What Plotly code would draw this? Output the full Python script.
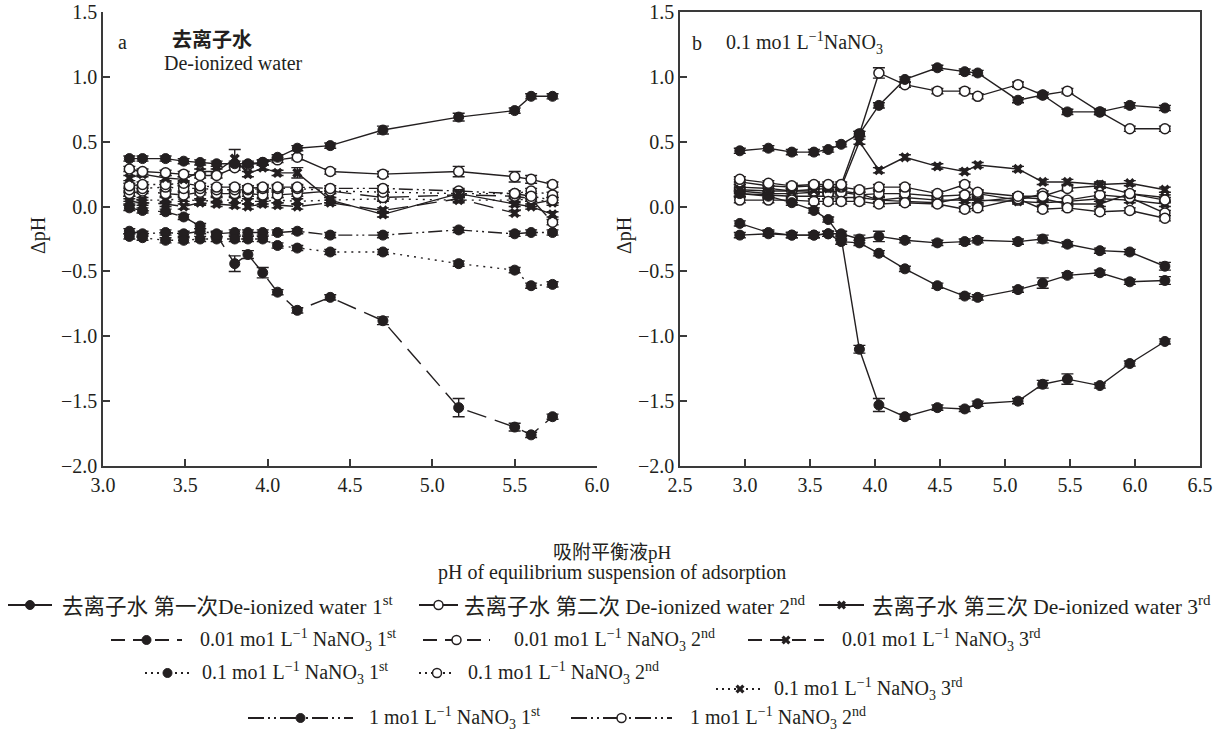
import plotly.graph_objects as go

W, H = 1225, 741
INK = "#231f20"
FONT = "Liberation Serif, Noto Sans CJK SC, serif"

# ---------------- Panel a : de-ionized water background ----------------
xa = [3.16, 3.24, 3.38, 3.49, 3.59, 3.69, 3.80, 3.88, 3.97, 4.06, 4.18, 4.38, 4.70, 5.16, 5.50, 5.60, 5.73]

a_dw1 = [0.37, 0.37, 0.37, 0.35, 0.34, 0.33, 0.33, 0.33, 0.34, 0.38, 0.45, 0.47, 0.59, 0.69, 0.74, 0.85, 0.85]
a_dw2 = [0.29, 0.27, 0.26, 0.25, 0.24, 0.24, 0.30, 0.32, 0.34, 0.36, 0.38, 0.27, 0.25, 0.27, 0.23, 0.21, 0.17]
a_dw3 = [0.22, 0.25, 0.22, 0.21, 0.27, 0.27, 0.37, 0.25, 0.30, 0.26, 0.26, 0.05, -0.06, 0.10, 0.02, 0.00, -0.06]
a_n001_1 = [-0.01, -0.03, -0.04, -0.08, -0.15, -0.22, -0.44, -0.37, -0.51, -0.66, -0.80, -0.70, -0.88, -1.55, -1.70, -1.76, -1.62]
a_n001_2 = [0.10, 0.12, 0.10, 0.09, 0.11, 0.10, 0.10, 0.10, 0.09, 0.09, 0.10, 0.12, 0.07, 0.09, 0.08, 0.06, -0.12]
a_n001_3 = [0.04, 0.03, 0.02, 0.00, 0.03, 0.02, 0.01, 0.00, 0.02, 0.01, 0.00, 0.03, -0.03, 0.06, -0.05, 0.02, 0.05]
a_n01_1 = [-0.23, -0.24, -0.26, -0.26, -0.25, -0.25, -0.25, -0.25, -0.25, -0.30, -0.32, -0.35, -0.35, -0.44, -0.49, -0.61, -0.60]
a_n01_2 = [0.13, 0.14, 0.15, 0.14, 0.14, 0.13, 0.13, 0.13, 0.14, 0.14, 0.14, 0.12, 0.11, 0.10, 0.10, 0.12, 0.09]
a_n01_3 = [0.06, 0.05, 0.05, 0.06, 0.04, 0.05, 0.05, 0.04, 0.04, 0.05, 0.04, 0.05, 0.06, 0.05, 0.05, 0.06, 0.03]
a_n1_1 = [-0.19, -0.21, -0.20, -0.21, -0.19, -0.21, -0.20, -0.20, -0.20, -0.20, -0.19, -0.22, -0.22, -0.18, -0.21, -0.20, -0.20]
a_n1_2 = [0.16, 0.17, 0.17, 0.18, 0.16, 0.15, 0.15, 0.14, 0.15, 0.15, 0.15, 0.14, 0.14, 0.12, 0.10, 0.08, 0.05]

e_a_dw1 = [0.02, 0.02, 0.02, 0.02, 0.02, 0.02, 0.02, 0.02, 0.02, 0.02, 0.02, 0.02, 0.03, 0.03, 0.02, 0.02, 0.02]
e_a_dw2 = [0.02, 0.02, 0.02, 0.02, 0.02, 0.02, 0.02, 0.02, 0.02, 0.02, 0.02, 0.02, 0.02, 0.04, 0.04, 0.03, 0.02]
e_a_dw3 = [0.02, 0.02, 0.02, 0.02, 0.02, 0.02, 0.07, 0.02, 0.02, 0.02, 0.04, 0.02, 0.02, 0.03, 0.02, 0.02, 0.02]
e_a_n001_1 = [0.02, 0.02, 0.02, 0.02, 0.02, 0.02, 0.06, 0.03, 0.04, 0.02, 0.02, 0.02, 0.03, 0.07, 0.03, 0.02, 0.02]
ERR_SMALL = 0.02

# ---------------- Panel b : 0.1 mol/L NaNO3 background ----------------
xb = [2.96, 3.18, 3.36, 3.53, 3.64, 3.74, 3.88, 4.03, 4.23, 4.48, 4.69, 4.79, 5.10, 5.29, 5.48, 5.73, 5.96, 6.23]

b_A = [0.43, 0.45, 0.42, 0.42, 0.44, 0.48, 0.56, 0.78, 0.98, 1.07, 1.04, 1.03, 0.82, 0.86, 0.73, 0.73, 0.78, 0.76]
b_B = [0.21, 0.18, 0.16, 0.17, 0.17, 0.17, 0.56, 1.03, 0.94, 0.89, 0.89, 0.85, 0.94, 0.86, 0.89, 0.73, 0.60, 0.60]
b_C = [0.13, 0.12, 0.12, 0.13, 0.14, 0.15, 0.50, 0.28, 0.38, 0.31, 0.27, 0.32, 0.29, 0.19, 0.19, 0.17, 0.18, 0.13]
b_D = [0.10, 0.08, 0.03, -0.03, -0.10, -0.24, -1.10, -1.53, -1.62, -1.55, -1.56, -1.52, -1.50, -1.37, -1.33, -1.38, -1.21, -1.04]
b_E = [-0.13, -0.20, -0.22, -0.22, -0.21, -0.27, -0.28, -0.36, -0.48, -0.61, -0.69, -0.70, -0.64, -0.59, -0.53, -0.51, -0.58, -0.57]
b_F = [-0.22, -0.21, -0.22, -0.22, -0.21, -0.21, -0.25, -0.23, -0.26, -0.28, -0.27, -0.26, -0.27, -0.25, -0.29, -0.34, -0.35, -0.46]
b_G = [0.19, 0.16, 0.15, 0.16, 0.15, 0.15, 0.13, 0.15, 0.15, 0.10, 0.17, 0.11, 0.08, 0.08, 0.14, 0.16, 0.10, 0.05]
b_H = [0.05, 0.05, 0.05, 0.04, 0.04, 0.04, 0.04, 0.02, 0.03, 0.02, -0.02, -0.01, 0.06, -0.02, -0.01, -0.04, -0.03, -0.09]
b_I = [0.10, 0.09, 0.08, 0.08, 0.08, 0.07, 0.07, 0.05, 0.07, 0.05, 0.05, 0.05, 0.04, 0.03, 0.04, 0.06, 0.05, 0.02]
b_J = [0.12, 0.10, 0.10, 0.11, 0.11, 0.12, 0.10, 0.05, 0.04, 0.03, 0.07, 0.04, 0.07, 0.06, 0.02, 0.02, 0.10, 0.07]
b_K = [0.15, 0.14, 0.12, 0.12, 0.10, 0.11, 0.09, 0.10, 0.10, 0.08, 0.09, 0.10, 0.05, 0.10, 0.05, 0.09, 0.07, -0.05]

e_b_B = [0.02, 0.02, 0.02, 0.02, 0.02, 0.02, 0.02, 0.04, 0.02, 0.02, 0.02, 0.02, 0.02, 0.02, 0.02, 0.02, 0.02, 0.02]
e_b_D = [0.02, 0.02, 0.02, 0.02, 0.02, 0.02, 0.03, 0.05, 0.02, 0.02, 0.02, 0.02, 0.02, 0.03, 0.04, 0.02, 0.02, 0.02]
e_b_E = [0.02, 0.02, 0.02, 0.02, 0.02, 0.02, 0.02, 0.02, 0.02, 0.02, 0.02, 0.02, 0.02, 0.04, 0.02, 0.02, 0.02, 0.03]
e_b_F = [0.02, 0.02, 0.02, 0.02, 0.02, 0.02, 0.03, 0.04, 0.02, 0.02, 0.02, 0.02, 0.02, 0.03, 0.02, 0.02, 0.02, 0.03]

# ---------------- legend labels ----------------
legend_labels = [
    "去离子水 第一次De-ionized water 1<sup>st</sup>",
    "去离子水 第二次 De-ionized water 2<sup>nd</sup>",
    "去离子水 第三次 De-ionized water 3<sup>rd</sup>",
    "0.01 mo1 L<sup>−1</sup> NaNO<sub>3</sub> 1<sup>st</sup>",
    "0.01 mo1 L<sup>−1</sup> NaNO<sub>3</sub> 2<sup>nd</sup>",
    "0.01 mo1 L<sup>−1</sup> NaNO<sub>3</sub> 3<sup>rd</sup>",
    "0.1 mo1 L<sup>−1</sup> NaNO<sub>3</sub> 1<sup>st</sup>",
    "0.1 mo1 L<sup>−1</sup> NaNO<sub>3</sub> 2<sup>nd</sup>",
    "0.1 mo1 L<sup>−1</sup> NaNO<sub>3</sub> 3<sup>rd</sup>",
    "1 mo1 L<sup>−1</sup> NaNO<sub>3</sub> 1<sup>st</sup>",
    "1 mo1 L<sup>−1</sup> NaNO<sub>3</sub> 2<sup>nd</sup>",
]

# styles
DASH = {"solid": "solid", "long": "20px,9px", "dot": "2px,5px", "ddot": "14px,4px,2px,4px,2px,4px"}


def marker_style(kind, size=10):
    if kind == "filled":
        return dict(symbol="circle", size=size, color=INK, line=dict(color=INK, width=1))
    if kind == "open":
        return dict(symbol="circle", size=size, color="white", line=dict(color=INK, width=1.5))
    return dict(symbol="x", size=size - 1, color=INK, line=dict(color=INK, width=0))


fig = go.Figure()


def add_series(x, y, err, kind, dash, xaxis, yaxis):
    fig.add_trace(go.Scatter(
        x=x, y=y, mode="lines+markers", xaxis=xaxis, yaxis=yaxis,
        line=dict(color=INK, width=1.4, dash=DASH[dash]),
        marker=marker_style(kind),
        error_y=(dict(type="data", array=err, color=INK, thickness=1.4, width=6)
                 if isinstance(err, list) else
                 dict(type="constant", value=err, color=INK, thickness=1.4, width=6)),
        showlegend=False, hoverinfo="skip"))


# panel a
panel_a = [
    (a_n001_3, ERR_SMALL, "x", "long"),
    (a_n01_3, ERR_SMALL, "x", "dot"),
    (a_n001_2, ERR_SMALL, "open", "long"),
    (a_n01_2, ERR_SMALL, "open", "dot"),
    (a_n1_2, ERR_SMALL, "open", "ddot"),
    (a_n1_1, ERR_SMALL, "filled", "ddot"),
    (a_n01_1, ERR_SMALL, "filled", "dot"),
    (a_dw3, e_a_dw3, "x", "solid"),
    (a_dw2, e_a_dw2, "open", "solid"),
    (a_n001_1, e_a_n001_1, "filled", "long"),
    (a_dw1, e_a_dw1, "filled", "solid"),
]
for y, e, k, d in panel_a:
    add_series(xa, y, e, k, d, "x", "y")

# panel b (all solid lines)
panel_b = [
    (b_I, ERR_SMALL, "x"), (b_J, ERR_SMALL, "x"), (b_K, ERR_SMALL, "open"),
    (b_H, ERR_SMALL, "open"), (b_G, ERR_SMALL, "open"),
    (b_F, e_b_F, "filled"), (b_E, e_b_E, "filled"), (b_D, e_b_D, "filled"),
    (b_C, ERR_SMALL, "x"), (b_B, e_b_B, "open"), (b_A, ERR_SMALL, "filled"),
]
for y, e, k in panel_b:
    add_series(xb, y, e, k, "solid", "x2", "y2")

# ---------------- manual legend drawn on a hidden pixel axis ----------------
# (sample x start, sample x end, row y, text x, font size) in pixels
legend_layout = [
    (8, 52, 605, 60, 21.5), (419, 458, 605, 462, 21.5), (819, 864, 605, 870, 21.5),
    (111, 182, 640, 198, 20), (423, 490, 640, 512, 20), (748, 824, 640, 840, 20),
    (145, 190, 673, 200, 20), (419, 455, 673, 466, 20), (716, 764, 689, 772, 20),
    (248, 353, 718, 367, 20), (571, 672, 718, 688, 20),
]
legend_kinds = ["filled", "open", "x", "filled", "open", "x", "filled", "open", "x", "filled", "open"]
legend_dash = ["solid", "solid", "solid", "long", "long", "long", "dot", "dot", "dot", "ddot", "ddot"]
LEG_DASH = {"solid": "solid", "long": "14px,8px", "dot": "2px,4px", "ddot": "16px,4px,2px,4px,2px,4px"}

annotations = []
for (x0, x1, yy, tx, fs), k, d, lab in zip(legend_layout, legend_kinds, legend_dash, legend_labels):
    fig.add_trace(go.Scatter(x=[x0, x1], y=[yy, yy], mode="lines", xaxis="x3", yaxis="y3",
                             line=dict(color=INK, width=1.8, dash=LEG_DASH[d]),
                             showlegend=False, hoverinfo="skip"))
    fig.add_trace(go.Scatter(x=[(x0 + x1) / 2], y=[yy], mode="markers", xaxis="x3", yaxis="y3",
                             marker=marker_style(k, size=9), showlegend=False, hoverinfo="skip"))
    annotations.append(dict(x=tx / W, y=1 - yy / H, xref="paper", yref="paper", text=lab,
                            showarrow=False, xanchor="left", yanchor="middle",
                            font=dict(family=FONT, size=fs, color=INK)))


def txt(x, y, s, size=20, xanchor="center", angle=0):
    annotations.append(dict(x=x / W, y=1 - y / H, xref="paper", yref="paper", text=s,
                            showarrow=False, xanchor=xanchor, yanchor="middle", textangle=angle,
                            font=dict(family=FONT, size=size, color=INK)))


txt(116, 42, "a", 20, "left")
txt(212, 40, "<b>去离子水</b>", 20)
txt(233, 63, "De-ionized water", 20)
txt(690, 43, "b", 20, "left")
txt(724, 43, "0.1 mo1 L<sup>−1</sup>NaNO<sub>3</sub>", 20, "left")
txt(38, 236, "ΔpH", 20, angle=-90)
txt(624, 236, "ΔpH", 20, angle=-90)
txt(612, 552, "吸附平衡液pH", 19)
txt(612, 572, "pH of equilibrium suspension of adsorption", 20)

TOP, BOT = 12, 466
ydom = [1 - BOT / H, 1 - TOP / H]
axis_common = dict(showgrid=False, zeroline=False, showline=True, linecolor="#3a3a3a", linewidth=1.6,
                   ticks="inside", ticklen=7, tickwidth=1.5, tickcolor="#3a3a3a", automargin=False,
                   tickfont=dict(family=FONT, size=20, color=INK), tickformat=".1f")

fig.update_layout(
    template="none",
    width=W, height=H, margin=dict(l=0, r=0, t=0, b=0, pad=0, autoexpand=False),
    paper_bgcolor="white", plot_bgcolor="rgba(0,0,0,0)", showlegend=False,
    annotations=annotations,
    xaxis=dict(domain=[103 / W, 597 / W], range=[3.0, 6.0], dtick=0.5, tick0=3.0, anchor="y", **axis_common),
    yaxis=dict(domain=ydom, range=[-2.0, 1.5], dtick=0.5, tick0=-2.0, anchor="x", **axis_common),
    xaxis2=dict(domain=[680 / W, 1200 / W], range=[2.5, 6.5], dtick=0.5, tick0=2.5, anchor="y2",
                mirror=True, **axis_common),
    yaxis2=dict(domain=ydom, range=[-2.0, 1.5], dtick=0.5, tick0=-2.0, anchor="x2",
                mirror=True, **axis_common),
    xaxis3=dict(domain=[0, 1], range=[0, W], visible=False, anchor="y3", fixedrange=True, automargin=False),
    yaxis3=dict(domain=[0, 0.22], range=[H, H * (1 - 0.22)], visible=False, anchor="x3", fixedrange=True,
                automargin=False),
)

fig.write_html("out.html", config={"displayModeBar": False},
               post_script="document.body.style.margin='0px';")
